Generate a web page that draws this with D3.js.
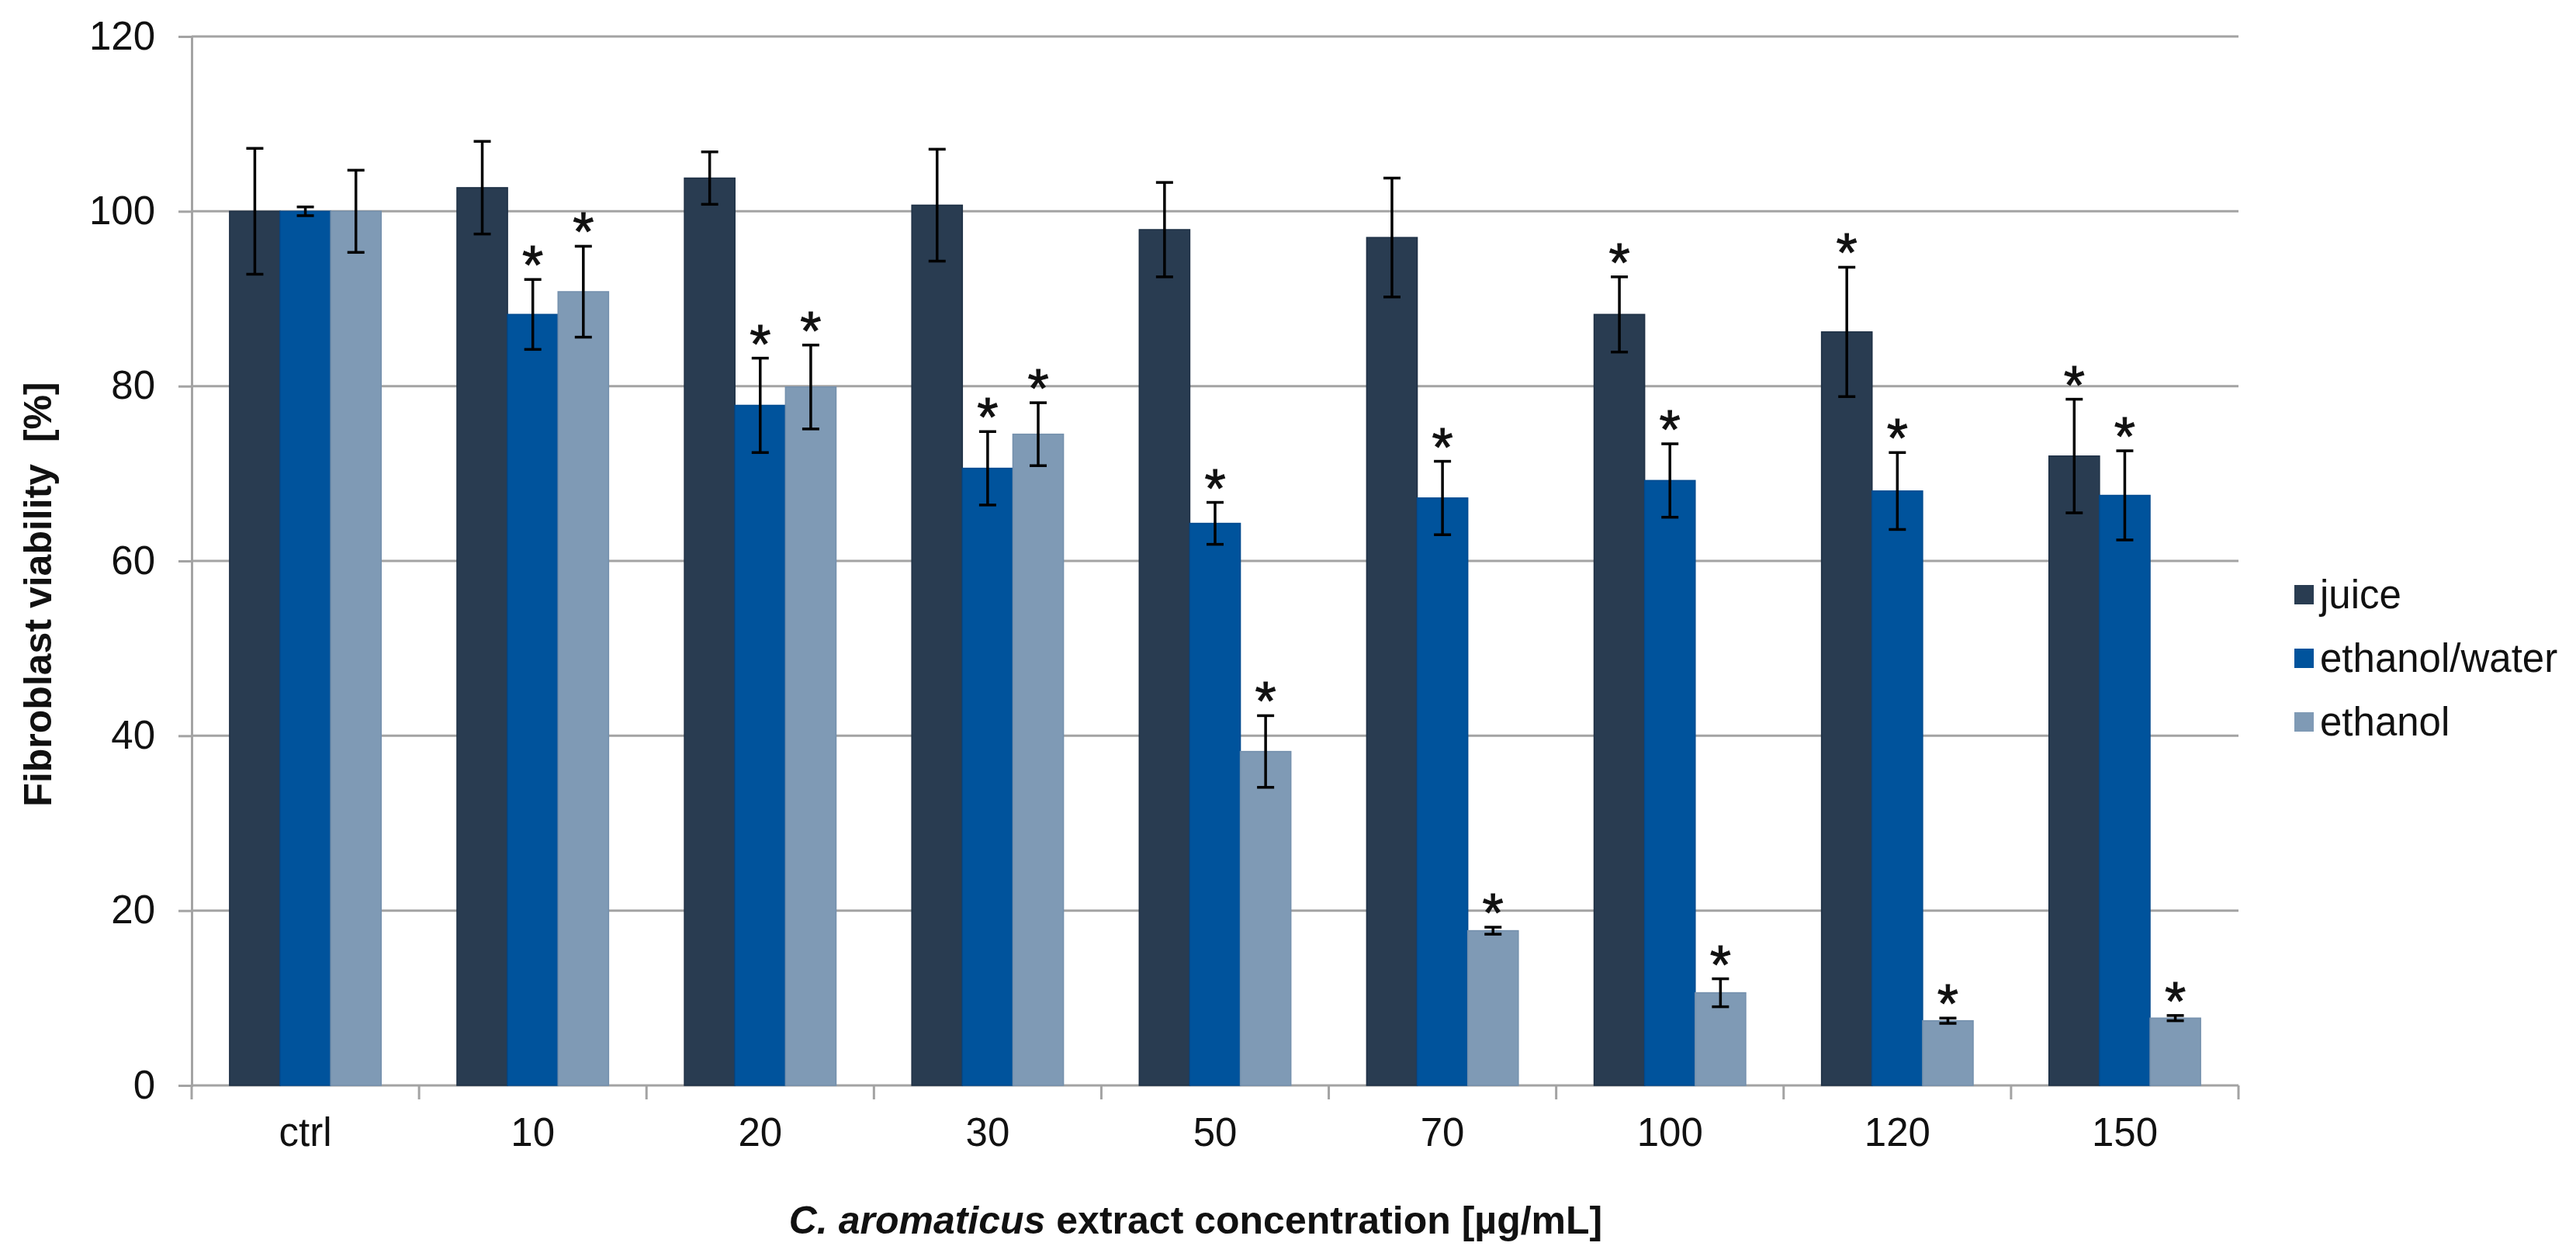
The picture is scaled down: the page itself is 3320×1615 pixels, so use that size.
<!DOCTYPE html>
<meta charset="utf-8">
<style>
  body { margin: 0; background: #fff; }
  text { font-family: "Liberation Sans", Arial, sans-serif; fill: #111; }
</style>
<svg width="3320" height="1615"></svg>
<script src="https://cdn.jsdelivr.net/npm/d3@7"></script>
<script>
// chart data
var categories = ["ctrl", "10", "20", "30", "50", "70", "100", "120", "150"];
var series = ["juice", "ethanol/water", "ethanol"];
var juice      = [100, 102.7, 103.8, 100.7, 97.9, 97.0, 88.2, 86.2, 72.0];
var juiceErr   = [7.2, 5.3, 3.0, 6.4, 5.4, 6.8, 4.3, 7.4, 6.5];
var ethWater   = [100, 88.2, 77.8, 70.6, 64.3, 67.2, 69.2, 68.0, 67.5];
var ethWaterErr= [0.5, 4.0, 5.4, 4.2, 2.4, 4.2, 4.2, 4.4, 5.1];
var ethanol    = [100, 90.8, 79.9, 74.5, 38.2, 17.7, 10.6, 7.4, 7.7];
var ethanolErr = [4.7, 5.2, 4.8, 3.6, 4.1, 0.4, 1.6, 0.3, 0.3];
// significance marks (1 = asterisk)
var juiceSig    = [0, 0, 0, 0, 0, 0, 1, 1, 1];
var ethWaterSig = [0, 1, 1, 1, 1, 1, 1, 1, 1];
var ethanolSig  = [0, 1, 1, 1, 1, 1, 1, 1, 1];
var yTicks = [0, 20, 40, 60, 80, 100, 120];

var color = ["#293c51", "#00539c", "#7f9ab5"];
var edge = ["#1e3045", "#004a8f", "#7490ad"];
var values = [juice, ethWater, ethanol],
    errs = [juiceErr, ethWaterErr, ethanolErr],
    sigs = [juiceSig, ethWaterSig, ethanolSig];

var svg = d3.select("svg"),
    pl = 247, pr = 2885, pt = 47, pb = 1399;

var x = d3.scaleBand().domain(categories).range([pl, pr]).paddingInner(0).paddingOuter(0);
var xs = d3.scaleBand().domain(series).range([0, x.bandwidth()]).paddingInner(0).paddingOuter(0.75);
var y = d3.scaleLinear().domain([0, 120]).range([pb, pt]);

// gridlines
svg.append("g").selectAll("line").data(yTicks.filter(function(d) { return d > 0; }))
  .enter().append("line")
    .attr("x1", pl).attr("x2", pr)
    .attr("y1", function(d) { return y(d); }).attr("y2", function(d) { return y(d); })
    .attr("stroke", "#a3a3a3").attr("stroke-width", 3);

// y axis
var yAxis = svg.append("g").attr("transform", "translate(" + pl + ",0)")
  .call(d3.axisLeft(y).tickValues(yTicks).tickSize(17).tickPadding(30));
yAxis.select(".domain").attr("stroke", "#a3a3a3").attr("stroke-width", 3);
yAxis.selectAll(".tick line").attr("stroke", "#a3a3a3").attr("stroke-width", 3);
yAxis.selectAll("text").style("font-size", "51px").attr("fill", "#111");

// x axis
var xAxis = svg.append("g").attr("transform", "translate(0," + pb + ")")
  .call(d3.axisBottom(x).tickSize(0).tickPadding(42));
xAxis.select(".domain").remove();
xAxis.selectAll("text").style("font-size", "51px").attr("fill", "#111");
svg.append("line").attr("x1", pl).attr("x2", pr).attr("y1", pb).attr("y2", pb)
  .attr("stroke", "#a3a3a3").attr("stroke-width", 3);
svg.append("g").selectAll("line").data(categories.concat(["end"]))
  .enter().append("line")
    .attr("x1", function(d, i) { return i < categories.length ? x(d) : pr; })
    .attr("x2", function(d, i) { return i < categories.length ? x(d) : pr; })
    .attr("y1", pb).attr("y2", pb + 18)
    .attr("stroke", "#a3a3a3").attr("stroke-width", 3);

// bars
var rows = [];
categories.forEach(function(c, i) {
  series.forEach(function(s, j) {
    rows.push({cat: c, ser: s, j: j, v: values[j][i], e: errs[j][i], sig: sigs[j][i]});
  });
});

var g = svg.append("g");
g.selectAll("rect").data(rows).enter().append("rect")
  .attr("x", function(d) { return x(d.cat) + xs(d.ser); })
  .attr("width", xs.bandwidth())
  .attr("y", function(d) { return y(d.v); })
  .attr("height", function(d) { return pb - y(d.v); })
  .attr("fill", function(d) { return color[d.j]; })
  .attr("stroke", function(d) { return edge[d.j]; })
  .attr("stroke-width", 1.5);

// error bars
var eb = g.selectAll(".err").data(rows).enter().append("g").attr("class", "err")
  .attr("stroke", "#000").attr("stroke-width", 3.5);
function cx(d) { return x(d.cat) + xs(d.ser) + xs.bandwidth() / 2; }
eb.append("line")
  .attr("x1", cx).attr("x2", cx)
  .attr("y1", function(d) { return y(d.v + d.e); })
  .attr("y2", function(d) { return y(d.v - d.e); });
eb.append("line")
  .attr("x1", function(d) { return cx(d) - 11; }).attr("x2", function(d) { return cx(d) + 11; })
  .attr("y1", function(d) { return y(d.v + d.e); }).attr("y2", function(d) { return y(d.v + d.e); });
eb.append("line")
  .attr("x1", function(d) { return cx(d) - 11; }).attr("x2", function(d) { return cx(d) + 11; })
  .attr("y1", function(d) { return y(d.v - d.e); }).attr("y2", function(d) { return y(d.v - d.e); });

// asterisks
g.selectAll(".star").data(rows.filter(function(d) { return d.sig; }))
  .enter().append("text").attr("class", "star")
    .attr("x", cx)
    .attr("y", function(d) { return y(d.v + d.e) + 6; })
    .attr("text-anchor", "middle")
    .style("font-size", "70px")
    .attr("stroke", "#111").attr("stroke-width", 1)
    .text("*");

// legend
var leg = svg.append("g").selectAll("g").data(series).enter().append("g")
  .attr("transform", function(d, i) { return "translate(2957," + (766 + i * 82) + ")"; });
leg.append("rect").attr("x", 0).attr("y", -12).attr("width", 25).attr("height", 25)
  .attr("fill", function(d, i) { return color[i]; });
leg.append("text").attr("x", 33).attr("dy", "0.35em").style("font-size", "51px")
  .text(function(d) { return d; });

// axis titles
svg.append("text")
  .attr("transform", "translate(48,766) rotate(-90)")
  .attr("text-anchor", "middle").attr("dy", "0.35em")
  .style("font-size", "50px").style("font-weight", "bold")
  .style("white-space", "pre")
  .text("Fibroblast viability  [%]");

var xt = svg.append("text")
  .attr("x", 1541).attr("y", 1572).attr("dy", "0.35em")
  .attr("text-anchor", "middle")
  .style("font-size", "50px").style("font-weight", "bold");
xt.append("tspan").style("font-style", "italic").text("C. aromaticus");
xt.append("tspan").text(" extract concentration [µg/mL]");
</script>
